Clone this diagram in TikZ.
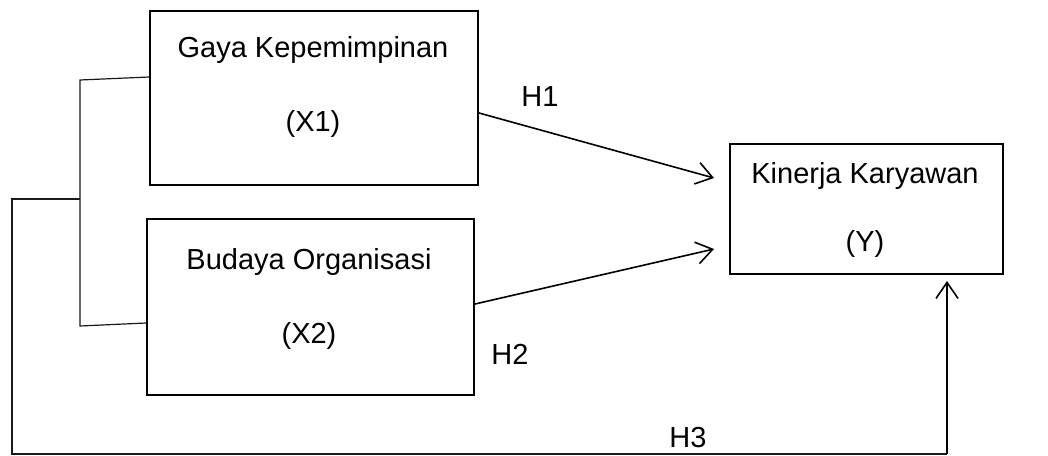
\documentclass[tikz,border=0pt]{standalone}
\usepackage{fontspec}
\setmainfont{Liberation Sans}
\usetikzlibrary{arrows.meta}
\usetikzlibrary{calc}

\begin{document}
\begin{tikzpicture}[x=0.5pt, y=-0.5pt,
    box/.style={draw, line width=1pt, anchor=north west, inner sep=0pt},
    link/.style={line width=0.8pt, -{Straight Barb[length=8pt, width=11pt]}},
    frame/.style={line width=0.6pt, black!90},
    txt/.style={font=\fontsize{14.5}{17}\selectfont, inner sep=0pt}]

      \useasboundingbox (0, 0) rectangle (1048, 455);

      % boxes
      \node [box, minimum width=164pt, minimum height=87pt] (x1) at (149, 10) {};
      \node [box, minimum width=163.5pt, minimum height=88pt] (x2) at (146, 218) {};
      \node [box, minimum width=136.5pt, minimum height=65pt] (y) at (729, 143) {};

      \node [txt] (x1name) at (313, 50) {Gaya Kepemimpinan};
      \node [txt] (x1var) at (313, 124) {(X1)};
      \node [txt] (x2name) at (309, 262) {Budaya Organisasi};
      \node [txt] (x2var) at (309, 336) {(X2)};
      \node [txt] (yname) at (865, 176) {Kinerja Karyawan};
      \node [txt] (yvar) at (865, 244) {(Y)};

      % hypotheses
      \coordinate (h1end) at (714, 178);
      \coordinate (h2end) at (714, 249);
      \coordinate (h3corner) at (947, 454);

      \draw [link] (x1.east |- 0,113) -- (h1end);
      \draw [link] (x2.east |- 0,304) -- (h2end);

      \draw [frame] (x1.west |- 0,77) -- (80, 80) -- (80, 326) -- (x2.west |- 0,323);
      \draw [frame] (80, 199) -- (12, 199) -- (12, 454) -- (h3corner);
      \draw [link, shorten >=3pt] (h3corner) -- (y.south -| h3corner);

      \node [txt] (h1) at (540, 97) {H1};
      \node [txt] (h2) at (510, 354) {H2};
      \node [txt] (h3) at (688, 438) {H3};

    \end{tikzpicture}
\end{document}
